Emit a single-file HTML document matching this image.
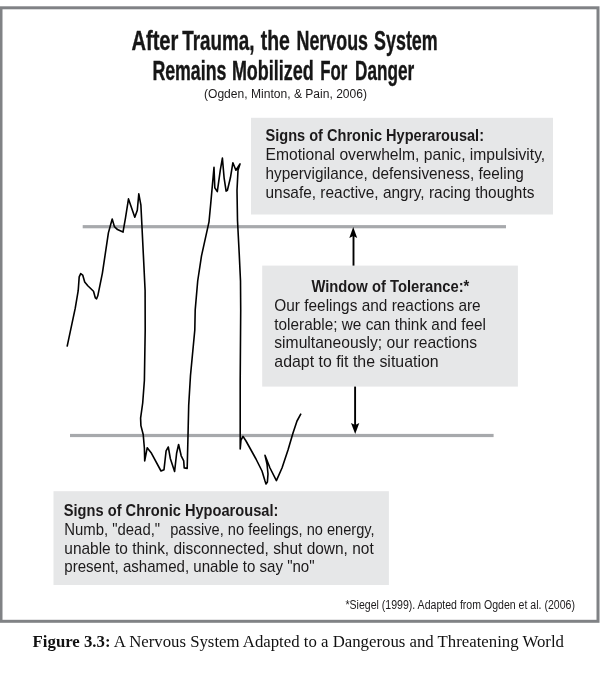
<!DOCTYPE html>
<html lang="en">
<head>
<meta charset="utf-8">
<title>Figure 3.3: A Nervous System Adapted to a Dangerous and Threatening World</title>
<style>
html,body{margin:0;padding:0;background:#fff;}
body{width:600px;height:675px;overflow:hidden;}
svg{display:block;}
text{white-space:pre;}
</style>
</head>
<body>
<svg width="600" height="675" viewBox="0 0 600 675">
<rect x="0" y="0" width="600" height="675" fill="#fff"/>
<rect x="1.0" y="7.8" width="597" height="613.5" fill="none" stroke="#808285" stroke-width="3"/>
<rect x="251" y="117.8" width="302" height="96.7" fill="#e6e7e8"/>
<rect x="262.2" y="265.6" width="255.7" height="121" fill="#e6e7e8"/>
<rect x="53.5" y="491.2" width="335.4" height="93.8" fill="#e6e7e8"/>
<rect x="82.7" y="225.1" width="423.3" height="3.2" fill="#a7a9ac"/>
<rect x="70" y="433.9" width="423.6" height="3.2" fill="#a7a9ac"/>
<path d="M353.5,265.6 V236" stroke="#000" stroke-width="1.9" fill="none"/>
<path d="M353.2,227 L357.2,238 L353.3,236 L349.3,238 Z" fill="#000"/>
<path d="M355.1,386.6 V425" stroke="#000" stroke-width="1.9" fill="none"/>
<path d="M355.2,434 L359.3,423 L355.2,425 L351,423 Z" fill="#000"/>
<path d="M67.1,346.6 L75.2,308.4 L78.2,290.7 L79.2,276.9 L80.7,273.6 L82.7,275.1 L84.7,281.9 L87.8,285.7 L93.5,291.3 L95.3,297.8 L96.6,298.8 L97.8,295.8 L102.4,273.1 L108.4,232.9 L112.2,219 L114.4,226.6 L117.5,229.6 L123,232.1 L125.5,217.8 L128.5,198.9 L134.8,217.3 L137.3,210.2 L138.8,193.8 L140.9,205.2 L141.9,225.3 L143.9,265.6 L145.1,290.7 L145.2,330 L144.4,380.3 L142.7,403 L140.6,418.1 L140.9,425.6 L143.2,434.5 L144.4,448.3 L144.7,460.9 L147.2,447.8 L151.5,453.3 L161,471 L164,469.7 L166.1,450.8 L168.3,447 L170.3,458.4 L174.6,471.5 L176.6,453.3 L178.6,444.5 L181.2,455.8 L183.7,460.9 L184.2,467.9 L187.2,468.4 L188,435.7 L188.7,405.5 L190.5,375.3 L194.8,330 L195.2,309.9 L197.7,281 L201.5,255.8 L209,221.8 L210.8,202.9 L214,167.2 L214.8,187.8 L217.3,191.6 L220.3,170.2 L222.4,158.1 L224.1,177.8 L226.1,191.1 L227.4,190.3 L230.4,177.8 L232.9,162.7 L235.9,170.2 L240,163.9 L238,170.2 L237,190.3 L237.5,220.5 L239.2,253.3 L240.5,281 L240.7,309.9 L240.2,380 L240.2,449 L241,440 L243,436.4 L246,441 L256,459 L262,471 L265,481 L266,484 L267.4,482 L268,474 L267,464 L265,455.4 L270,468 L276.4,480.6 L282,468 L288,450 L293,433 L297,421 L301,413.6" fill="none" stroke="#000" stroke-width="1.6" stroke-linejoin="round" stroke-linecap="butt"/>
<text y="49.5" font-family='"Liberation Sans", sans-serif' font-size="27.6" font-weight="bold" fill="#161616" stroke="#161616" stroke-width="0.4"><tspan x="131.4" textLength="47.0" lengthAdjust="spacingAndGlyphs">After</tspan> <tspan x="182.3" textLength="72.1" lengthAdjust="spacingAndGlyphs">Trauma,</tspan> <tspan x="260.7" textLength="29.1" lengthAdjust="spacingAndGlyphs">the</tspan> <tspan x="296.5" textLength="71.5" lengthAdjust="spacingAndGlyphs">Nervous</tspan> <tspan x="374.1" textLength="63.6" lengthAdjust="spacingAndGlyphs">System</tspan></text>
<text y="79.9" font-family='"Liberation Sans", sans-serif' font-size="27.6" font-weight="bold" fill="#161616" stroke="#161616" stroke-width="0.4"><tspan x="152.4" textLength="74.0" lengthAdjust="spacingAndGlyphs">Remains</tspan> <tspan x="231.9" textLength="81.7" lengthAdjust="spacingAndGlyphs">Mobilized</tspan> <tspan x="320.3" textLength="27.1" lengthAdjust="spacingAndGlyphs">For</tspan> <tspan x="355.1" textLength="59.1" lengthAdjust="spacingAndGlyphs">Danger</tspan></text>
<text x="204.0" y="98.2" font-family='"Liberation Sans", sans-serif' font-size="12.3" font-weight="normal" fill="#1c1a1b" textLength="163" lengthAdjust="spacingAndGlyphs">(Ogden, Minton, &amp; Pain, 2006)</text>
<text x="265.5" y="140.8" font-family='"Liberation Sans", sans-serif' font-size="16.2" font-weight="bold" fill="#1c1a1b" textLength="218.5" lengthAdjust="spacingAndGlyphs">Signs of Chronic Hyperarousal:</text>
<text x="265.5" y="159.9" font-family='"Liberation Sans", sans-serif' font-size="16.2" font-weight="normal" fill="#1c1a1b" textLength="279.7" lengthAdjust="spacingAndGlyphs">Emotional overwhelm, panic, impulsivity,</text>
<text x="265.5" y="178.7" font-family='"Liberation Sans", sans-serif' font-size="16.2" font-weight="normal" fill="#1c1a1b" textLength="258.2" lengthAdjust="spacingAndGlyphs">hypervigilance, defensiveness, feeling</text>
<text x="265.5" y="197.6" font-family='"Liberation Sans", sans-serif' font-size="16.2" font-weight="normal" fill="#1c1a1b" textLength="268.9" lengthAdjust="spacingAndGlyphs">unsafe, reactive, angry, racing thoughts</text>
<text x="311.4" y="291.8" font-family='"Liberation Sans", sans-serif' font-size="16.2" font-weight="bold" fill="#1c1a1b" textLength="157.9" lengthAdjust="spacingAndGlyphs">Window of Tolerance:*</text>
<text x="274.3" y="310.5" font-family='"Liberation Sans", sans-serif' font-size="16.2" font-weight="normal" fill="#1c1a1b" textLength="206.4" lengthAdjust="spacingAndGlyphs">Our feelings and reactions are</text>
<text x="274.3" y="329.6" font-family='"Liberation Sans", sans-serif' font-size="16.2" font-weight="normal" fill="#1c1a1b" textLength="211.7" lengthAdjust="spacingAndGlyphs">tolerable; we can think and feel</text>
<text x="274.3" y="348.4" font-family='"Liberation Sans", sans-serif' font-size="16.2" font-weight="normal" fill="#1c1a1b" textLength="202.7" lengthAdjust="spacingAndGlyphs">simultaneously; our reactions</text>
<text x="274.3" y="367.3" font-family='"Liberation Sans", sans-serif' font-size="16.2" font-weight="normal" fill="#1c1a1b" textLength="164.3" lengthAdjust="spacingAndGlyphs">adapt to fit the situation</text>
<text x="63.8" y="516.0" font-family='"Liberation Sans", sans-serif' font-size="16.2" font-weight="bold" fill="#1c1a1b" textLength="214.6" lengthAdjust="spacingAndGlyphs">Signs of Chronic Hypoarousal:</text>
<text y="534.9" font-family='"Liberation Sans", sans-serif' font-size="16.2" fill="#1c1a1b"><tspan x="64.3" textLength="95.8" lengthAdjust="spacingAndGlyphs">Numb, "dead,"</tspan> <tspan x="170.2" textLength="204.4" lengthAdjust="spacingAndGlyphs">passive, no feelings, no energy,</tspan></text>
<text x="64.3" y="553.6" font-family='"Liberation Sans", sans-serif' font-size="16.2" font-weight="normal" fill="#1c1a1b" textLength="309.4" lengthAdjust="spacingAndGlyphs">unable to think, disconnected, shut down, not</text>
<text x="64.3" y="572.3" font-family='"Liberation Sans", sans-serif' font-size="16.2" font-weight="normal" fill="#1c1a1b" textLength="250.3" lengthAdjust="spacingAndGlyphs">present, ashamed, unable to say "no"</text>
<text x="345.4" y="608.9" font-family='"Liberation Sans", sans-serif' font-size="12" font-weight="normal" fill="#1c1a1b" textLength="229.6" lengthAdjust="spacingAndGlyphs">*Siegel (1999). Adapted from Ogden et al. (2006)</text>
<text x="32.6" y="647.2" font-family='"Liberation Serif", serif' font-size="16" fill="#111" textLength="531.4" lengthAdjust="spacingAndGlyphs"><tspan font-weight="bold">Figure 3.3:</tspan> A Nervous System Adapted to a Dangerous and Threatening World</text>
</svg>
</body>
</html>
